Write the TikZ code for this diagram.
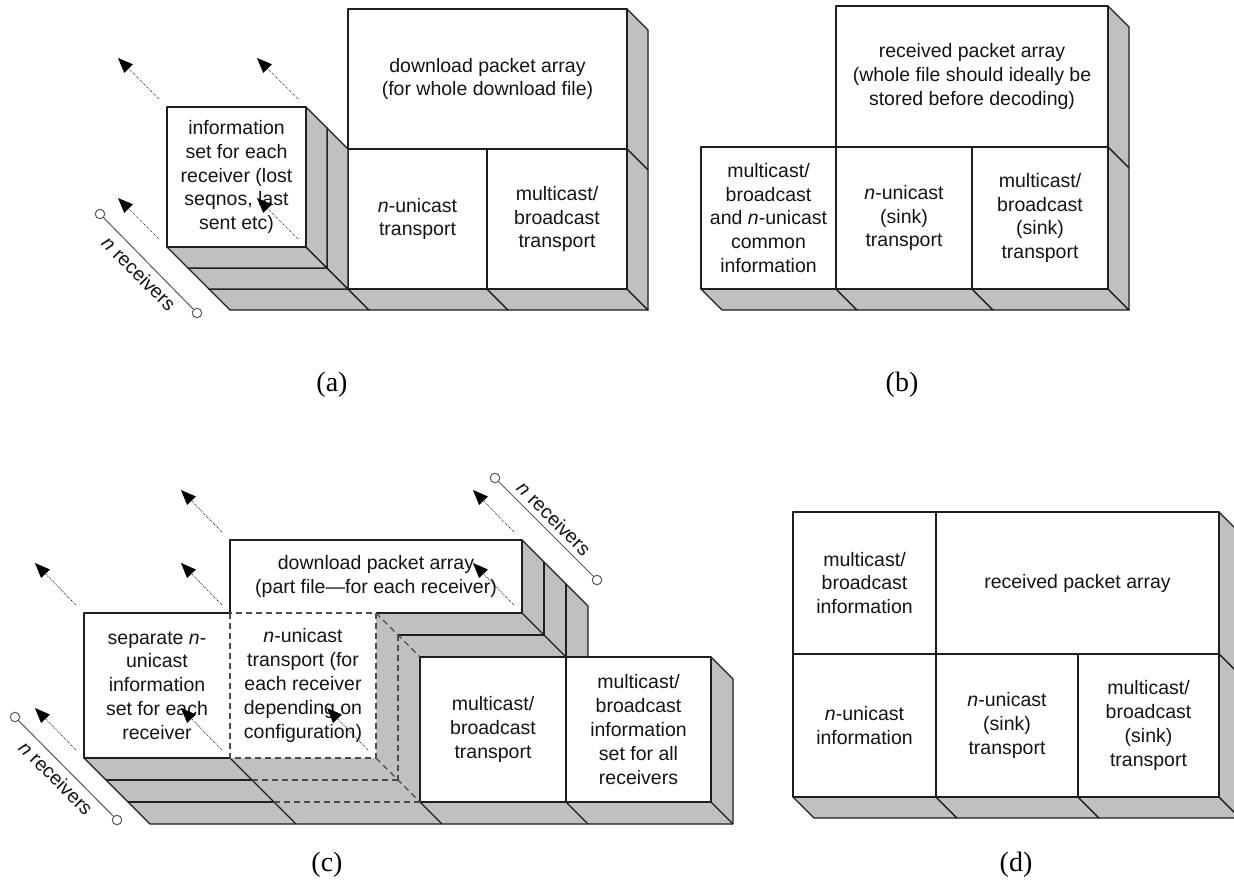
\documentclass[tikz,border=0pt]{standalone}
\usepackage{fontspec}
\setmainfont{Liberation Sans}
\newfontfamily\capfont{Liberation Serif}
\usetikzlibrary{arrows.meta}

\definecolor{facegrey}{RGB}{192,192,192}
\definecolor{edgecol}{RGB}{30,30,30}
\newcommand\boxfont{\fontsize{19.5}{23.8}\selectfont}

\tikzset{
  edgeline/.style={draw=edgecol, line width=1.2pt, line join=round},
  side/.style={fill=facegrey, edgeline},
  front/.style={fill=white, edgeline, inner sep=0pt, outer sep=0pt,
    align=center, font=\boxfont, text=black!92},
  frontplain/.style={fill=white, draw=none, inner sep=0pt, outer sep=0pt,
    align=center, font=\boxfont, text=black!92},
  dashedge/.style={draw=black!70, line width=1.2pt, dash pattern=on 6pt off 4pt},
  outarrow/.style={draw=black, line width=0.7pt, dash pattern=on 0.8pt off 1.2pt,
    -{Triangle[length=15pt,width=12pt]}},
  ring/.style={circle, draw=black!65, fill=white, line width=1pt,
    minimum size=9.5pt, inner sep=0pt},
  ringline/.style={draw=black!65, line width=1pt},
  rlabel/.style={font=\boxfont, text=black!92, rotate=-45, inner sep=0pt},
  caption/.style={font=\capfont\fontsize{28}{30}\selectfont, inner sep=0pt}
}

% bottom face of a block: front-bottom edge from x1 to x2 at height y, depth d
\newcommand\botface[4]{\path[side] (#1,#3) -- (#2,#3) -- ++(#4,#4) -- ({#1+#4},{#3+#4}) -- cycle;}
% right face of a block: front-right edge at x from y1 to y2, depth d
\newcommand\rgtface[4]{\path[side] (#1,#2) -- ++(#4,#4) -- ({#1+#4},{#3+#4}) -- (#1,#3) -- cycle;}
% front face as a named node: style, name, x1, y1, x2, y2, text
\newcommand\facebox[7]{%
  \pgfmathsetmacro\fbw{abs(#5-#3)}%
  \pgfmathsetmacro\fbh{abs(#6-#4)}%
  \node[#1, minimum width=\fbw pt, minimum height=\fbh pt] (#2)
    at ({(#3+#5)/2},{(#4+#6)/2}) {#7};%
}

\begin{document}
\begin{tikzpicture}[x=1pt, y=-1pt]
\useasboundingbox (0,0) rectangle (1234,881);
\clip (0,0) rectangle (1234,881);
\fill[white] (0,0) rectangle (1234,881);

% ---------------- (a) sender with whole download file ----------------
% deepest slab: third receiver's information set and the packet array block
\botface{209}{348}{289}{21}
\facebox{front}{a-info3}{209}{149}{348}{289}{}
\rgtface{627}{9}{149}{21}
\facebox{front}{a-array}{348}{9}{627}{149}{download packet array\\(for whole download file)}
\botface{348}{487}{289}{21}
\facebox{front}{a-ucast}{348}{149}{487}{289}{\textit{n}-unicast\\transport}
\botface{487}{627}{289}{21}
\rgtface{627}{149}{289}{21}
\facebox{front}{a-mcast}{487}{149}{627}{289}{multicast/\\broadcast\\transport}
% middle slab
\botface{188}{327}{268}{21}
\rgtface{327}{128}{268}{21}
\facebox{front}{a-info2}{188}{128}{327}{268}{}
% front slab
\botface{167}{306}{247}{21}
\rgtface{306}{107}{247}{21}
\facebox{front}{a-info1}{167}{107}{306}{247}{information\\set for each\\receiver (lost\\seqnos, last\\sent etc)}
% receiver direction arrows
\foreach \c in {north west, north east, south west, south east}
  \draw[outarrow] ([shift={(-8,-8)}]a-info1.\c) -- ([shift={(-49,-49)}]a-info1.\c);
% receiver count
\node[ring] (a-r1) at (100,214) {};
\node[ring] (a-r2) at (197,313) {};
\draw[ringline] (a-r1) -- (a-r2);
\node[rlabel] (a-rl) at (139,273.5) {\textit{n} receivers};
\node[caption] (cap-a) at (332,385) {(a)};

% ---------------- (b) receiver with whole file ----------------
\rgtface{1108}{6}{147}{21}
\facebox{front}{b-array}{836}{6}{1108}{147}{received packet array\\(whole file should ideally be\\stored before decoding)}
\botface{701}{836}{289}{21}
\facebox{front}{b-common}{701}{147}{836}{289}{multicast/\\broadcast\\and \textit{n}-unicast\\common\\information}
\botface{836}{972}{289}{21}
\facebox{front}{b-ucast}{836}{147}{972}{289}{\textit{n}-unicast\\(sink)\\transport}
\botface{972}{1108}{289}{21}
\rgtface{1108}{147}{289}{21}
\facebox{front}{b-mcast}{972}{147}{1108}{289}{multicast/\\broadcast\\(sink)\\transport}
\node[caption] (cap-b) at (902,385) {(b)};

% ---------------- (c) sender with part file per receiver ----------------
% grey side and bottom faces of the three receiver slabs
\fill[facegrey] (84,758) -- (376,758) -- (442,824) -- (150,824) -- cycle;
\fill[facegrey] (420,802) -- (711,802) -- (733,824) -- (442,824) -- cycle;
\fill[facegrey] (376,613) -- (420,657) -- (420,802) -- (376,758) -- cycle;
\fill[facegrey] (230,613) -- (522,613) -- (566,657) -- (274,657) -- cycle;
\fill[facegrey] (522,540) -- (588,606) -- (588,679) -- (522,613) -- cycle;
\fill[facegrey] (711,657) -- (733,679) -- (733,824) -- (711,802) -- cycle;
% front faces
\facebox{frontplain}{c-array}{230}{540}{522}{613}{download packet array\\(part file—for each receiver)}
\facebox{frontplain}{c-info}{84}{613}{230}{758}{separate \textit{n}-\\unicast\\information\\set for each\\receiver}
\facebox{frontplain}{c-ucast}{230}{613}{376}{758}{\textit{n}-unicast\\transport (for\\each receiver\\depending on\\configuration)}
\facebox{front}{c-mcast}{420}{657}{566}{802}{multicast/\\broadcast\\transport}
\facebox{front}{c-mset}{566}{657}{711}{802}{multicast/\\broadcast\\information\\set for all\\receivers}
% solid edges
\draw[edgeline] (c-ucast.north east) -- (c-array.south east) -- (c-array.north east)
  -- (c-array.north west) -- (c-array.south west);
\draw[edgeline] (c-array.north east) -- (588,606) -- (588,657);
\draw[edgeline] (544,562) -- (544,635);
\draw[edgeline] (566,584) -- (566,657);
\draw[edgeline] (c-array.south east) -- (566,657);
\draw[edgeline] (398,635) -- (544,635);
\draw[edgeline] (c-info.north east) -- (c-info.north west) -- (c-info.south west) -- (c-info.south east);
\draw[edgeline] (c-info.south west) -- (150,824) -- (733,824) -- (733,679) -- (c-mset.north east);
\draw[edgeline] (c-info.south east) -- (296,824);
\draw[edgeline] (c-mcast.south west) -- (442,824);
\draw[edgeline] (c-mset.south west) -- (588,824);
\draw[edgeline] (c-mset.south east) -- (733,824);
\draw[edgeline] (106,780) -- (252,780);
\draw[edgeline] (128,802) -- (274,802);
% dashed per-receiver unicast transport column
\draw[dashedge] (c-ucast.north west) rectangle (c-ucast.south east);
\draw[dashedge] (c-ucast.north east) -- (c-mcast.north west);
\draw[dashedge] (c-ucast.south east) -- (c-mcast.south west);
\draw[dashedge] (398,635) -- (398,780);
\draw[dashedge] (252,780) -- (398,780);
\draw[dashedge] (274,802) -- (c-mcast.south west);
% receiver direction arrows
\foreach \c in {c-array.north west, c-array.north east, c-array.south east,
               c-info.north west, c-info.south west,
               c-ucast.north west, c-ucast.south west, c-ucast.south east}
  \draw[outarrow] ([shift={(-8,-8)}]\c) -- ([shift={(-49,-50)}]\c);
% receiver counts
\node[ring] (c-r1) at (15,717) {};
\node[ring] (c-r2) at (117,820) {};
\draw[ringline] (c-r1) -- (c-r2);
\node[rlabel] (c-rl) at (56,778) {\textit{n} receivers};
\node[ring] (c-r3) at (495,478) {};
\node[ring] (c-r4) at (597,580) {};
\draw[ringline] (c-r3) -- (c-r4);
\node[rlabel] (c-rl2) at (554,518.5) {\textit{n} receivers};
\node[caption] (cap-c) at (327,865) {(c)};

% ---------------- (d) receiver with part file ----------------
\facebox{front}{d-minfo}{793}{512}{936}{654}{multicast/\\broadcast\\information}
\rgtface{1219}{512}{654}{21}
\facebox{front}{d-array}{936}{512}{1219}{654}{received packet array}
\botface{793}{936}{797}{21}
\facebox{front}{d-uinfo}{793}{654}{936}{797}{\textit{n}-unicast\\information}
\botface{936}{1078}{797}{21}
\facebox{front}{d-ucast}{936}{654}{1078}{797}{\textit{n}-unicast\\(sink)\\transport}
\botface{1078}{1219}{797}{21}
\rgtface{1219}{654}{797}{21}
\facebox{front}{d-mcast}{1078}{654}{1219}{797}{multicast/\\broadcast\\(sink)\\transport}
\node[caption] (cap-d) at (1016,865) {(d)};
\end{tikzpicture}
\end{document}
